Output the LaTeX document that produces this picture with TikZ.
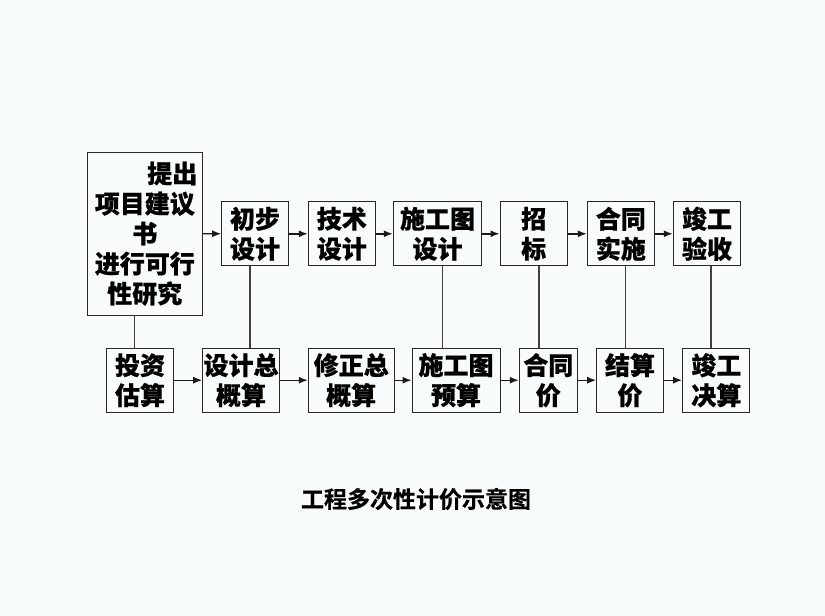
\documentclass[tikz,border=0pt]{standalone}
\usepackage{fontspec}
\newfontfamily\cjk{Noto Sans CJK SC Bold}[FakeBold=0.6]
\usetikzlibrary{arrows.meta}
\definecolor{bgc}{RGB}{247,251,251}
\definecolor{boxc}{RGB}{40,40,40}
\tikzset{
  box/.style={draw=boxc, line width=1pt, inner sep=0pt, align=center,
    font=\cjk\bfseries\fontsize{25pt}{30pt}\selectfont, minimum height=64pt},
  arr/.style={draw=black!90, line width=1.4pt, -{Latex[length=9pt,width=7pt]}},
  vline/.style={draw=black!75, line width=1.3pt}
}
\begin{document}
\begin{tikzpicture}[x=1pt,y=-1pt]
\fill[bgc] (0,0) rectangle (825,616);
\useasboundingbox (0,0) rectangle (825,616);
% top row
\node[box, minimum width=115pt, minimum height=162.7pt] (big) at (144.8,233.7)
  {\makebox[4.2em][r]{提出}\\项目建议\\书\\进行可行\\性研究};
\node[box, minimum width=66.6pt] (cbsj) at (255,233.8) {初步\\设计};
\node[box, minimum width=67pt] (jssj) at (341.8,233.8) {技术\\设计};
\node[box, minimum width=88.4pt] (sgtsj) at (437.5,233.8) {施工图\\设计};
\node[box, minimum width=67.3pt] (zb) at (533.7,233.8) {招\\标};
\node[box, minimum width=67pt] (htss) at (620.8,233.8) {合同\\实施};
\node[box, minimum width=67.4pt] (jgys) at (707,233.8) {竣工\\验收};
% bottom row
\node[box, minimum width=66.6pt] (tzgs) at (140,380.2) {投资\\估算};
\node[box, minimum width=76.6pt] (sjzgs) at (241,380.2) {设计总\\概算};
\node[box, minimum width=85.7pt] (xzzgs) at (351.2,380.2) {修正总\\概算};
\node[box, minimum width=88pt] (sgtys) at (456,380.2) {施工图\\预算};
\node[box, minimum width=58pt] (htj) at (548.3,380.2) {合同\\价};
\node[box, minimum width=66.6pt] (jsj) at (630,380.2) {结算\\价};
\node[box, minimum width=67.3pt] (jgjs) at (716.3,380.2) {竣工\\决算};
% title
\node[font=\cjk\fontsize{23pt}{27pt}\selectfont, inner sep=0pt] (title) at (416,499) {工程多次性计价示意图};
% top arrows
\draw[arr] (big) -- (cbsj);
\draw[arr] (cbsj) -- (jssj);
\draw[arr] (jssj) -- (sgtsj);
\draw[arr] (sgtsj) -- (zb);
\draw[arr] (zb) -- (htss);
\draw[arr] (htss) -- (jgys);
% bottom arrows
\draw[arr] (tzgs) -- (sjzgs);
\draw[arr] (sjzgs) -- (xzzgs);
\draw[arr] (xzzgs) -- (sgtys);
\draw[arr] (sgtys) -- (htj);
\draw[arr] (htj) -- (jsj);
\draw[arr] (jsj) -- (jgjs);
% vertical links
\draw[vline] ([xshift=-10.5pt]big.south) -- ([xshift=-10.5pt]big.south |- tzgs.north);
\draw[vline] ([xshift=-5pt]cbsj.south) -- ([xshift=-5pt]cbsj.south |- sjzgs.north);
\draw[vline] ([xshift=4.8pt]sgtsj.south) -- ([xshift=4.8pt]sgtsj.south |- sgtys.north);
\draw[vline] ([xshift=5.3pt]zb.south) -- ([xshift=5.3pt]zb.south |- htj.north);
\draw[vline] ([xshift=4.9pt]htss.south) -- ([xshift=4.9pt]htss.south |- jsj.north);
\draw[vline] ([xshift=4pt]jgys.south) -- ([xshift=4pt]jgys.south |- jgjs.north);
\end{tikzpicture}
\end{document}
